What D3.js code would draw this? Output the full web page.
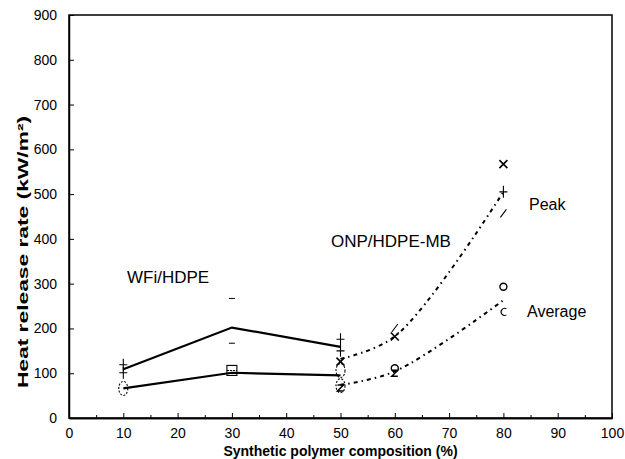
<!DOCTYPE html>
<html>
<head>
<meta charset="utf-8">
<script src="https://cdn.jsdelivr.net/npm/d3@7"></script>
<style>
  html, body { margin: 0; padding: 0; background: #fff; }
  svg { display: block; }
  text { font-family: "Liberation Sans", Arial, sans-serif; fill: #000; }
</style>
</head>
<body>
<svg id="chart" width="625" height="459"></svg>
<script>
// WFi/HDPE composites (solid lines)
const wfiComposition = [10, 30, 50];
const wfiPeak = [109, 202, 159];
const wfiAverage = [66, 101, 95];

// ONP/HDPE-MB composites (smoothed dash-dot lines)
const onpComposition = [50, 60, 80];
const onpPeak = [132, 182, 505];
const onpAverage = [74, 104, 263];

// Individual replicate readings
const replicateX = [10, 10, 30, 30, 50, 50, 10, 30, 50, 50, 50, 60, 60, 80, 80, 80, 50, 60, 60, 80, 80];
const replicateY = [119, 101, 267, 167, 176, 150, 66, 104, 106, 126, 67, 182, 201, 567, 457, 505, 72, 111, 100, 293, 237];
const replicateMark = ["plus", "plus", "dash", "dash", "plus", "plus", "ellipse", "square", "ellipse", "cross", "zed",
                       "cross", "slash", "cross", "slash", "plus", "ellipse", "circle", "zed", "circle", "arc"];

const xTicks = [0, 10, 20, 30, 40, 50, 60, 70, 80, 90, 100];
const xMinorTicks = [5, 15, 25, 35, 45, 55, 65, 75, 85, 95];
const yTicks = [0, 100, 200, 300, 400, 500, 600, 700, 800, 900];

const svg = d3.select("#chart");
const x = d3.scaleLinear().domain([0, 100]).range([69, 612]);
const y = d3.scaleLinear().domain([0, 900]).range([418, 15]);

// Frame
svg.append("rect")
  .attr("x", x(0)).attr("y", y(900))
  .attr("width", x(100) - x(0)).attr("height", y(0) - y(900))
  .attr("fill", "none").attr("stroke", "#000").attr("stroke-width", 1.5);

// Axes with inward ticks
const xAxis = svg.append("g").attr("transform", `translate(0,${y(0)})`)
  .call(d3.axisBottom(x).tickValues(xTicks).tickSizeInner(-5).tickSizeOuter(0).tickPadding(10).tickFormat(d3.format("d")));
const xMinor = svg.append("g").attr("transform", `translate(0,${y(0)})`)
  .call(d3.axisBottom(x).tickValues(xMinorTicks).tickSizeInner(-3).tickSizeOuter(0).tickFormat(""));
const yAxis = svg.append("g").attr("transform", `translate(${x(0)},0)`)
  .call(d3.axisLeft(y).tickValues(yTicks).tickSizeInner(-5).tickSizeOuter(0).tickPadding(12).tickFormat(d3.format("d")));

[xAxis, xMinor, yAxis].forEach(g => {
  g.select(".domain").attr("stroke-width", 1.5);
  g.selectAll(".tick line").attr("stroke-width", 1);
  g.selectAll(".tick text").attr("font-size", 14)
    .style("font-family", "'Liberation Sans', Arial, sans-serif");
});

// Axis titles
svg.append("text")
  .attr("x", (x(0) + x(100)) / 2).attr("y", 456)
  .attr("text-anchor", "middle").attr("font-size", 14).attr("font-weight", "bold")
  .text("Synthetic polymer composition (%)");

// y title is drawn wide along its run
svg.append("text")
  .attr("transform", "translate(27.5,252) rotate(-90) scale(1.52,1)")
  .attr("text-anchor", "middle").attr("font-size", 15).attr("font-weight", "bold")
  .text("Heat release rate (kW/m²)");

// Lines
const straight = d3.line().x(d => x(d[0])).y(d => y(d[1]));
const smooth = d3.line().x(d => x(d[0])).y(d => y(d[1])).curve(d3.curveCatmullRom.alpha(0.5));

[wfiPeak, wfiAverage].forEach(vals => {
  svg.append("path")
    .datum(wfiComposition.map((c, i) => [c, vals[i]]))
    .attr("d", straight)
    .attr("fill", "none").attr("stroke", "#000").attr("stroke-width", 2.2);
});

[onpPeak, onpAverage].forEach(vals => {
  svg.append("path")
    .datum(onpComposition.map((c, i) => [c, vals[i]]))
    .attr("d", smooth)
    .attr("fill", "none").attr("stroke", "#000").attr("stroke-width", 2)
    .attr("stroke-dasharray", "4,4,1.5,4");
});

// Replicate markers
const marks = svg.append("g").attr("fill", "none").attr("stroke", "#000").attr("stroke-width", 1.1);
replicateX.forEach((rx, i) => {
  const cx = x(rx), cy = y(replicateY[i]);
  const g = marks.append("g").attr("transform", `translate(${cx},${cy})`);
  switch (replicateMark[i]) {
    case "plus":
      g.append("path").attr("d", "M-4,0H4M0,-6V6");
      break;
    case "dash":
      g.append("path").attr("d", "M-3,0H3").attr("stroke-width", 1);
      break;
    case "ellipse":
      g.append("ellipse").attr("rx", 4.5).attr("ry", 7).attr("stroke-dasharray", "2,1.5");
      break;
    case "square":
      g.append("rect").attr("x", -5).attr("y", -6).attr("width", 10).attr("height", 10);
      g.append("path").attr("d", "M-5,-1H5").attr("stroke-dasharray", "2,1");
      break;
    case "cross":
      g.append("path").attr("d", "M-4,-4L4,4M-4,4L4,-4").attr("stroke-width", 1.6);
      break;
    case "slash":
      g.append("path").attr("d", "M-3,4L3,-4");
      break;
    case "zed":
      g.append("path").attr("d", "M-3,-3H3L-3,3H3").attr("stroke-width", 1.5);
      break;
    case "circle":
      g.append("circle").attr("r", 3.5).attr("stroke-width", 1.4);
      break;
    case "arc":
      g.append("path").attr("d", "M3,-3A3.5,3.5 0 1 0 3,3");
      break;
  }
});

// Annotations
const notes = [
  { text: "WFi/HDPE", x: 127, y: 283, size: 17 },
  { text: "ONP/HDPE-MB", x: 331, y: 247, size: 17 },
  { text: "Peak", x: 529, y: 210, size: 16 },
  { text: "Average", x: 527, y: 317, size: 16 }
];
svg.selectAll("text.note").data(notes).enter().append("text")
  .attr("class", "note")
  .attr("x", d => d.x).attr("y", d => d.y)
  .attr("font-size", d => d.size)
  .text(d => d.text);
</script>
</body>
</html>
